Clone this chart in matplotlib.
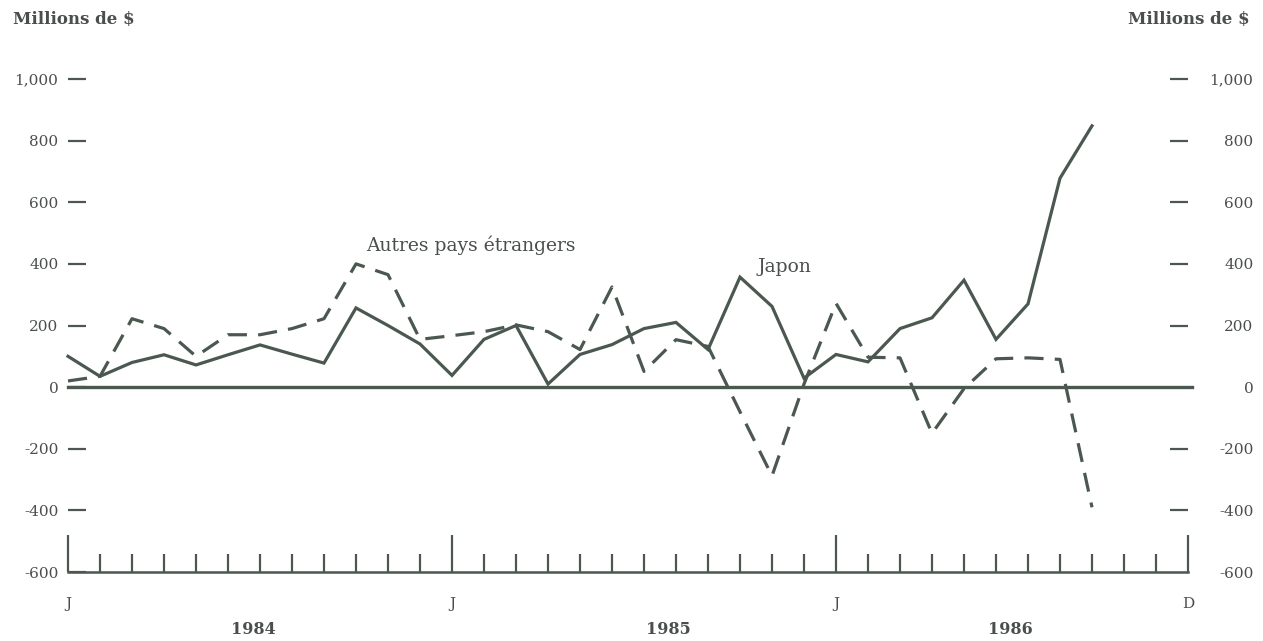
import matplotlib
matplotlib.use("Agg")
import matplotlib.pyplot as plt
import numpy as np

# ---- data (monthly, starting January 1984) ----
months = list(range(33))  # Jan 1984 .. Sep 1986
japon = [100, 35, 80, 105, 72, 105, 137, 107, 78, 257, 200, 140, 38, 155, 200, 10,
         106, 138, 190, 210, 122, 357, 262, 29, 106, 82, 190, 225, 347, 155, 270, 678, 848]
autres = [20, 35, 222, 190, 100, 170, 170, 190, 222, 400, 365, 155, 167, 180, 202, 180,
          122, 325, 51, 154, 132, -80, -288, 10, 272, 97, 95, -150, -5, 92, 95, 90, -390]

y_ticks = [-600, -400, -200, 0, 200, 400, 600, 800, 1000]
y_labels = ["-600", "-400", "-200", "0", "200", "400", "600", "800", "1,000"]
x_major = [0, 12, 24, 35]
x_major_labels = ["J", "J", "J", "D"]
years = ["1984", "1985", "1986"]
year_pos = [5.8, 18.75, 29.45]

col = "#4b5850"
txtcol = "#4a4f4c"
font = "DejaVu Serif"

fig = plt.figure(figsize=(12.63, 6.41), dpi=100)
ax = fig.add_axes([68/1263, 69/641, 1120/1263, 493/641])
ax.set_xlim(0, 35)
ax.set_ylim(-600, 1000)

ax.plot(months, japon, color=col, lw=2.3, solid_joinstyle="miter", clip_on=False)
ax.plot(months, autres, color=col, lw=2.3, dashes=(6, 3.5), clip_on=False)
ax.axhline(0, xmin=0, xmax=1.004, color=col, lw=2.4, clip_on=False)

for s in ["top", "left", "right"]:
    ax.spines[s].set_visible(False)
ax.spines["bottom"].set_color(col)
ax.spines["bottom"].set_linewidth(1.8)

# x ticks
ax.set_xticks(x_major)
ax.set_xticklabels(x_major_labels, fontsize=11, color=txtcol, family=font)
ax.set_xticks([m for m in range(36) if m not in x_major], minor=True)
ax.tick_params(axis="x", which="major", direction="in", length=27, width=1.6,
               color=col, pad=18)
ax.tick_params(axis="x", which="minor", direction="in", length=13, width=1.6,
               color=col)

# left y ticks
ax.set_yticks(y_ticks)
ax.set_yticklabels(y_labels, fontsize=11, color=txtcol, family=font)
ax.tick_params(axis="y", which="both", direction="in", length=13, width=1.6,
               color=col, pad=7, left=True, right=False)
for v, t in zip(y_ticks, ax.yaxis.get_major_ticks()):
    if v in (0, -600):
        t.tick1line.set_visible(False)

# right y ticks
ax2 = ax.twinx()
ax2.set_ylim(ax.get_ylim())
for s in ["top", "left", "right", "bottom"]:
    ax2.spines[s].set_visible(False)
ax2.set_yticks(y_ticks)
ax2.set_yticklabels(y_labels, fontsize=11, color=txtcol, family=font)
ax2.tick_params(axis="y", direction="in", length=13, width=1.6, color=col, pad=47)
for lab in ax2.get_yticklabels():
    lab.set_horizontalalignment("right")
for v, t in zip(y_ticks, ax2.yaxis.get_major_ticks()):
    if v in (0, -600):
        t.tick2line.set_visible(False)

# year labels
for yr, xp in zip(years, year_pos):
    ax.text(xp, -0.117, yr, transform=ax.get_xaxis_transform(), ha="center", va="center",
            fontsize=11.5, fontweight="bold", color=txtcol, family=font)

# unit labels
fig.text(13/1263, 1 - 20/641, "Millions de $", ha="left", va="center", fontsize=12,
         fontweight="bold", color=txtcol, family=font)
fig.text(1250/1263, 1 - 20/641, "Millions de $", ha="right", va="center", fontsize=12,
         fontweight="bold", color=txtcol, family=font)

# series annotations
ax.text(12.6, 461, "Autres pays étrangers", ha="center", va="center", fontsize=13.5,
        color=txtcol, family=font)
ax.text(22.4, 390, "Japon", ha="center", va="center", fontsize=13.5,
        color=txtcol, family=font)

fig.savefig("out.png", dpi=100, facecolor="white")
